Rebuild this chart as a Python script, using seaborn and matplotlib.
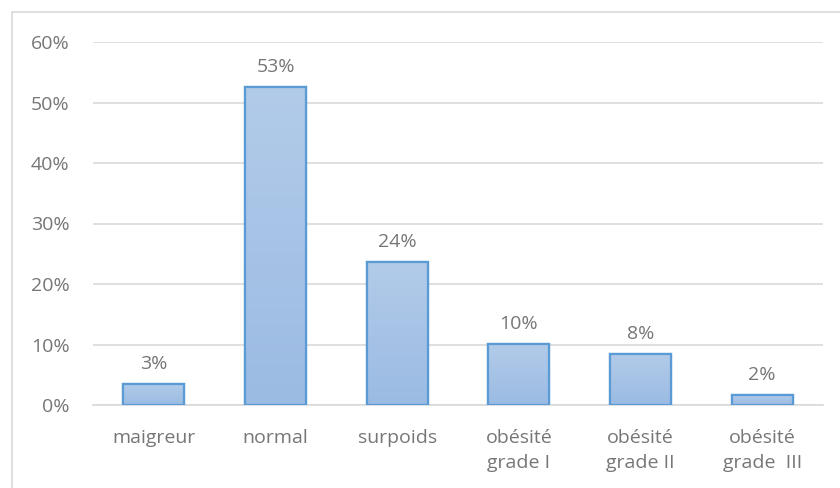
import matplotlib
matplotlib.use("Agg")
import matplotlib.pyplot as plt
import matplotlib.patches as mpatches
from matplotlib.colors import LinearSegmentedColormap
import numpy as np
import pandas as pd
import seaborn as sns

categories = ["maigreur", "normal", "surpoids", "obésité\ngrade I", "obésité\ngrade II", "obésité\ngrade  III"]
values = [3.4, 52.6, 23.7, 10.1, 8.4, 1.7]
value_labels = ["3%", "53%", "24%", "10%", "8%", "2%"]
y_ticks = [0, 10, 20, 30, 40, 50, 60]
y_tick_labels = ["0%", "10%", "20%", "30%", "40%", "50%", "60%"]

sns.set_style("white")
plt.rcParams["font.family"] = ["Open Sans", "DejaVu Sans"]

TEXT = "#767676"
GRID = "#d9d9d9"
FS = 14

fig = plt.figure(figsize=(8.4, 4.88), dpi=100)
ax = fig.add_axes([93/840, 83/488, (823-93)/840, (405-42)/488])

df = pd.DataFrame({"cat": categories, "val": values})
sns.barplot(data=df, x="cat", y="val", ax=ax, color="#a9c4e6", width=0.5,
            edgecolor="#5b9bd5", linewidth=1.6, zorder=3)

ax.set_ylim(0, 60)
ax.set_yticks(y_ticks)
ax.set_yticklabels(y_tick_labels)
ax.grid(axis="y", color=GRID, linewidth=1.2, zorder=0)
ax.set_axisbelow(True)
for s in ["top", "right", "left"]:
    ax.spines[s].set_visible(False)
ax.spines["bottom"].set_color(GRID)
ax.spines["bottom"].set_linewidth(1.2)
ax.tick_params(axis="both", length=0, labelsize=FS, labelcolor=TEXT)
ax.tick_params(axis="y", pad=17)
ax.tick_params(axis="x", pad=17)
for t in ax.get_xticklabels():
    t.set_linespacing(1.55)
ax.set_xlabel("")
ax.set_ylabel("")

grad = np.linspace(0, 1, 256).reshape(-1, 1)
cmap = LinearSegmentedColormap.from_list("g", ["#9bbbe3", "#b2cbe9"])
for p in list(ax.patches):
    x0, y0 = p.get_x(), p.get_y()
    w, h = p.get_width(), p.get_height()
    im = ax.imshow(grad, cmap=cmap, extent=[x0, x0 + w, y0, y0 + h],
                   origin="lower", aspect="auto", zorder=3.5)
    im.set_clip_path(p)
    edge = mpatches.Rectangle((x0, y0), w, h, fill=False, edgecolor="#5b9bd5",
                              linewidth=1.6, zorder=4)
    ax.add_patch(edge)
ax.set_xlim(-0.5, len(categories) - 0.5)
ax.set_ylim(0, 60)

for i, (v, lab) in enumerate(zip(values, value_labels)):
    ax.annotate(lab, (i, v), xytext=(0, 8), textcoords="offset points",
                ha="center", va="bottom", fontsize=FS, color=TEXT)

fig.patches.append(mpatches.Rectangle((12/840, -10/488), (850-12)/840, (476+10)/488,
                                      transform=fig.transFigure, fill=False,
                                      edgecolor=GRID, linewidth=1.2))
fig.savefig("out.png", dpi=100)
